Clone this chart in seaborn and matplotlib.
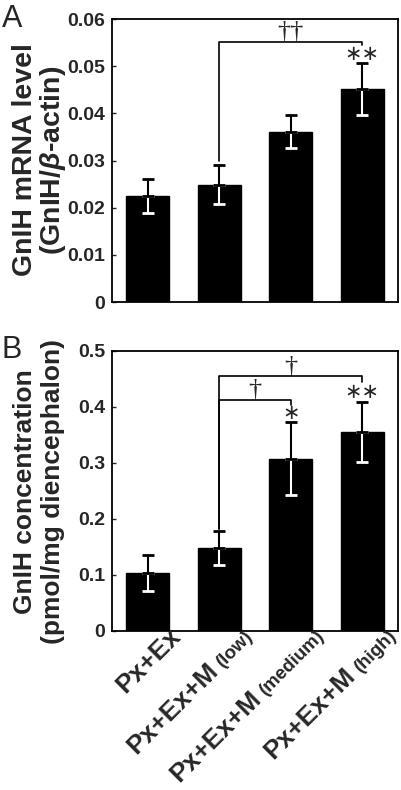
import numpy as np
import pandas as pd
import seaborn as sns
import matplotlib.pyplot as plt
from matplotlib.font_manager import FontProperties
from matplotlib.transforms import blended_transform_factory, offset_copy

groups = ["Px+Ex", "Px+Ex+M (low)", "Px+Ex+M (medium)", "Px+Ex+M (high)"]
label_main = ["Px+Ex", "Px+Ex+M", "Px+Ex+M", "Px+Ex+M"]
label_dose = ["", "(low)", "(medium)", "(high)"]

# panel A: GnIH mRNA level (GnIH/beta-actin), mean and error
mrna_mean = [0.0224, 0.0249, 0.0361, 0.0451]
mrna_err = [0.0036, 0.0041, 0.0035, 0.0055]
mrna_ticks = [0, 0.01, 0.02, 0.03, 0.04, 0.05, 0.06]
mrna_ticklabels = ["0", "0.01", "0.02", "0.03", "0.04", "0.05", "0.06"]
mrna_ylabel = ["GnIH mRNA level", "(GnIH/$\\mathit{\\beta}$-actin)"]

# panel B: GnIH concentration (pmol/mg diencephalon)
conc_mean = [0.103, 0.148, 0.308, 0.355]
conc_err = [0.032, 0.030, 0.065, 0.054]
conc_ticks = [0, 0.1, 0.2, 0.3, 0.4, 0.5]
conc_ticklabels = ["0", "0.1", "0.2", "0.3", "0.4", "0.5"]
conc_ylabel = ["GnIH concentration", "(pmol/mg diencephalon)"]

# significance: (from bar, to bar, bracket y, left foot y, right foot y, symbol)
mrna_brackets = [(1, 3, 0.0551, 0.0300, 0.0546, "\u2020\u2020")]
conc_brackets = [(1, 2, 0.4125, 0.182, 0.404, "\u2020"),
                 (1, 3, 0.455, 0.182, 0.445, "\u2020")]
mrna_stars = [(3, 0.0526, "\u2217\u2217")]
conc_stars = [(2, 0.389, "\u2217"), (3, 0.426, "\u2217\u2217")]

sns.set_theme(style="white")
plt.rcParams["font.family"] = ["Liberation Sans", "DejaVu Sans"]
plt.rcParams["font.weight"] = "bold"
plt.rcParams["mathtext.fontset"] = "custom"
plt.rcParams["mathtext.it"] = "Liberation Sans:italic:bold"
plt.rcParams["mathtext.rm"] = "Liberation Sans:bold"

fig = plt.figure(figsize=(4.01, 7.9), dpi=100)
axA = fig.add_axes([0.2793, 0.6177, 0.7132, 0.3582])
axB = fig.add_axes([0.2793, 0.2013, 0.7132, 0.3544])


def draw_panel(ax, means, errs, ticks, ticklabels, brackets, stars):
    df = pd.DataFrame({"group": groups, "value": means})
    sns.barplot(data=df, x="group", y="value", color="black", saturation=1,
                width=0.6, errorbar=None, edgecolor="black", ax=ax)
    x = np.arange(len(means))
    zeros = np.zeros(len(means))
    ax.errorbar(x, means, yerr=[errs, zeros], fmt="none", ecolor="white",
                elinewidth=1.5, capsize=4.5, capthick=2, zorder=3)
    ax.errorbar(x, means, yerr=[zeros, errs], fmt="none", ecolor="black",
                elinewidth=1.5, capsize=4.5, capthick=2, zorder=4)

    ymax = ticks[-1]
    ax.set_xlim(-0.5, len(means) - 0.5)
    ax.set_ylim(0, ymax)
    ax.set_yticks(ticks)
    ax.set_yticklabels(ticklabels, fontsize=14, fontweight="bold")
    ax.set_xticks(x)
    ax.set_xticklabels([])
    ax.set_xlabel("")
    ax.set_ylabel("")
    ax.tick_params(axis="y", direction="in", length=3, width=1, pad=5, left=True)
    ax.tick_params(axis="x", length=0)
    for s in ax.spines.values():
        s.set_visible(True)
        s.set_color("black")
        s.set_linewidth(1.3)

    lift = offset_copy(ax.transData, fig=fig, x=0, y=3, units="points")
    for x0, x1, y, yl, yr, sym in brackets:
        ax.plot([x0, x0, x1, x1], [yl, y, y, yr], color="black", lw=1.2, zorder=5)
        xm = (x0 + x1) / 2
        ax.text(xm, y, sym, ha="center", va="baseline", transform=lift,
                family="Liberation Serif", fontweight="normal", fontsize=19,
                clip_on=False)
    for xs, y, sym in stars:
        ax.text(xs, y, sym, ha="center", va="center", family="DejaVu Sans",
                fontweight="normal", fontsize=15)


draw_panel(axA, mrna_mean, mrna_err, mrna_ticks, mrna_ticklabels,
           mrna_brackets, mrna_stars)
draw_panel(axB, conc_mean, conc_err, conc_ticks, conc_ticklabels,
           conc_brackets, conc_stars)

# y labels, one text per line
for (line1, line2), yc, size in [(mrna_ylabel, 160, 20.5), (conc_ylabel, 492, 19)]:
    fig.text(25 / 401, 1 - yc / 790, line1, rotation=90, ha="center",
             va="center", fontsize=size, fontweight="bold")
    fig.text(53 / 401, 1 - yc / 790, line2, rotation=90, ha="center",
             va="center", fontsize=size, fontweight="bold")

# panel letters
fig.text(2 / 401, 1 - 27 / 790, "A", fontsize=22, fontweight="normal", va="baseline")
fig.text(2 / 401, 1 - 358 / 790, "B", fontsize=22, fontweight="normal", va="baseline")

# rotated x labels with a smaller dose part
renderer = fig.canvas.get_renderer()
small = FontProperties(family="Liberation Sans", weight="bold", size=13.5)
base = blended_transform_factory(axB.transData, axB.transAxes)
c45 = np.cos(np.pi / 4)
drop = -6
for i, (main, dose) in enumerate(zip(label_main, label_dose)):
    anchor = offset_copy(base, fig=fig, x=0, y=drop, units="dots")
    w = 0
    if dose:
        axB.text(i + 0.48, 0, dose, transform=anchor, rotation=45,
                 rotation_mode="anchor", ha="right", va="baseline",
                 fontproperties=small, clip_on=False)
        w, _, _ = renderer.get_text_width_height_descent(" " + dose, small, ismath=False)
    tr = offset_copy(base, fig=fig, x=-w * c45, y=drop - w * c45, units="dots")
    axB.text(i + 0.48, 0, main, transform=tr, rotation=45,
             rotation_mode="anchor", ha="right", va="baseline",
             fontsize=19, fontweight="bold", clip_on=False)

fig.savefig("out.png", dpi=100)
